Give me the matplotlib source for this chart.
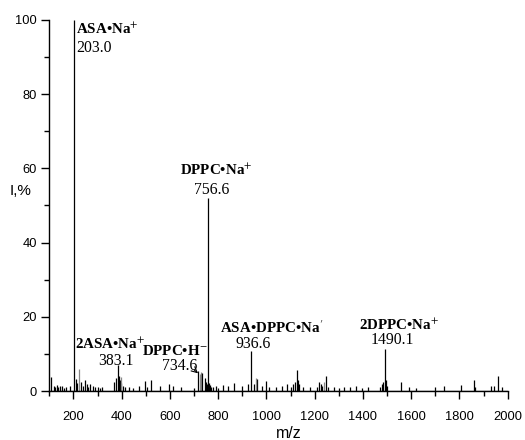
import matplotlib
matplotlib.use("Agg")
import matplotlib.pyplot as plt
from matplotlib.ticker import MultipleLocator

# main labelled peaks (m/z, intensity %)
main_mz = [203.0, 383.1, 734.6, 756.6, 936.6, 1490.1]
main_int = [100.0, 7.0, 5.0, 52.0, 10.8, 11.3]

# small peaks (black)
small_mz = [107, 118, 124, 130, 137, 145, 152, 160, 168, 185, 210, 215, 232, 240, 248,
            255, 262, 270, 280, 290, 300, 310, 320, 370, 375, 388, 392, 398, 405, 412,
            430, 445, 470, 497, 505, 523, 560, 595, 614, 645, 700, 715, 744, 748, 752,
            762, 766, 772, 780, 790, 800, 820, 840, 865, 898, 924, 950, 962, 980, 1000,
            1010, 1040, 1066, 1085, 1100, 1112, 1118, 1125, 1130, 1135, 1150, 1180,
            1210, 1218, 1225, 1232, 1246, 1255, 1280, 1300, 1320, 1345, 1370, 1395,
            1420, 1470, 1480, 1485, 1495, 1500, 1557, 1590, 1620, 1700, 1736, 1807,
            1861, 1866, 1930, 1945, 1960, 1975]
small_int = [3.8, 1.4, 1.2, 1.6, 1.0, 1.3, 1.5, 0.8, 1.2, 1.5, 3.4, 2.2, 2.5, 1.5, 2.9,
             1.8, 1.2, 2.0, 1.4, 1.0, 1.2, 0.8, 1.0, 2.5, 3.5, 4.0, 3.0, 2.2, 1.5, 1.0,
             1.2, 0.8, 1.3, 2.7, 1.2, 3.0, 1.4, 2.0, 1.5, 1.0, 0.8, 5.5, 3.5, 2.5, 2.0,
             2.2, 1.6, 1.2, 1.0, 1.4, 0.8, 1.6, 1.5, 2.2, 1.5, 1.8, 2.0, 3.2, 1.4, 2.7,
             1.0, 1.2, 1.5, 1.8, 1.0, 2.0, 2.6, 5.7, 3.0, 1.8, 1.0, 1.1, 1.2, 2.4, 2.0,
             1.5, 4.2, 1.2, 1.0, 0.8, 1.2, 1.0, 1.3, 0.9, 1.0, 1.2, 2.0, 2.5, 3.0, 1.5,
             2.5, 1.0, 0.8, 1.0, 1.5, 1.7, 3.0, 1.2, 1.5, 1.3, 4.1, 1.0]

# grey peaks
grey_mz = [223, 395, 725, 730, 955, 1240]
grey_int = [6.1, 3.8, 4.5, 5.2, 3.5, 2.5]

plt.rcParams['font.family'] = ['Liberation Sans', 'DejaVu Sans']
plt.rcParams['mathtext.fontset'] = 'stix'

fig = plt.figure(figsize=(5.25, 4.4), dpi=100)
ax = fig.add_axes([0.094, 0.111, 0.873, 0.844])

ax.vlines(small_mz, 0, small_int, color='black', linewidth=0.9)
ax.vlines(grey_mz, 0, grey_int, color='#888888', linewidth=0.9)
ax.vlines(main_mz, 0, main_int, color='black', linewidth=0.9)
ax.axhline(0, color='black', linewidth=0.9)

ax.set_xlim(100, 2000)
ax.set_ylim(0, 100)
ax.xaxis.set_major_locator(MultipleLocator(200))
ax.xaxis.set_minor_locator(MultipleLocator(100))
ax.yaxis.set_major_locator(MultipleLocator(20))
ax.yaxis.set_minor_locator(MultipleLocator(10))
ax.tick_params(which='major', direction='out', length=6, width=1, labelsize=9.3, colors='black')
ax.tick_params(which='minor', direction='out', length=3.5, width=1)
ax.tick_params(axis='x', which='major', pad=8)
ax.tick_params(axis='y', which='major', pad=3)
for s in ['top', 'right']:
    ax.spines[s].set_visible(False)
ax.spines['left'].set_linewidth(1)
ax.spines['bottom'].set_linewidth(1)

ax.set_xlabel('m/z', fontsize=11.5, va='center')
ax.xaxis.set_label_coords(0.523, -0.113)
ax.set_ylabel('I,%', fontsize=11, rotation=0, va='center')
ax.yaxis.set_label_coords(-0.062, 0.54)

serif = ['Liberation Serif', 'DejaVu Serif']
bold = dict(family=serif, fontsize=10.8, fontweight='bold', va='top')
reg = dict(family=serif, fontsize=11.3, va='top')

ax.text(212, 99.6, 'ASA•Na$^{+}$', ha='left', **bold)
ax.text(212, 94.6, '203.0', ha='left', **reg)
ax.text(792, 61.6, 'DPPC•Na$^{+}$', ha='center', **bold)
ax.text(771, 56.4, '756.6', ha='center', **reg)
ax.text(207, 14.8, '2ASA•Na$^{+}$', ha='left', **bold)
ax.text(378, 10.4, '383.1', ha='center', **reg)
ax.text(485, 12.8, 'DPPC•H$^{-}$', ha='left', **bold)
ax.text(567, 9.0, '734.6', ha='left', **reg)
ax.text(809, 19.3, r"ASA•DPPC•Na$^{\prime}$", ha='left', **bold)
ax.text(944, 14.8, '936.6', ha='center', **reg)
ax.text(1383, 19.8, '2DPPC•Na$^{+}$', ha='left', **bold)
ax.text(1520, 15.8, '1490.1', ha='center', **reg)
ax.annotate('', xy=(725, 4.3), xytext=(692, 6.2),
            arrowprops=dict(arrowstyle='->', color='black', lw=0.8))

fig.savefig('out.png', dpi=100)
